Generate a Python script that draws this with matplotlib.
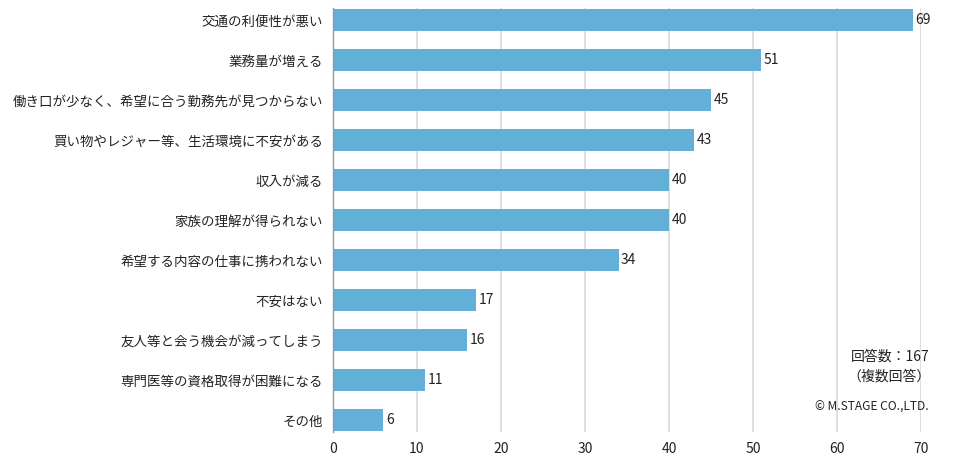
import matplotlib
matplotlib.use("Agg")
import matplotlib.pyplot as plt

plt.rcParams["font.family"] = ["Noto Sans CJK JP", "DejaVu Sans"]

categories = [
    "交通の利便性が悪い",
    "業務量が増える",
    "働き口が少なく、希望に合う勤務先が見つからない",
    "買い物やレジャー等、生活環境に不安がある",
    "収入が減る",
    "家族の理解が得られない",
    "希望する内容の仕事に携われない",
    "不安はない",
    "友人等と会う機会が減ってしまう",
    "専門医等の資格取得が困難になる",
    "その他",
]
counts = [69, 51, 45, 43, 40, 40, 34, 17, 16, 11, 6]
x_ticks = [0, 10, 20, 30, 40, 50, 60, 70]

fig = plt.figure(figsize=(9.76, 4.59), dpi=100)
ax = fig.add_axes([333 / 976, 1 - 432 / 459, 588 / 976, 424 / 459])

pos = list(range(len(categories)))
ax.barh(pos, counts, height=0.53, color="#62AFD8", zorder=2)
for p, v in zip(pos, counts):
    ax.text(v + 0.3, p, str(v), va="center", ha="left", fontsize=10, color="#222222")

ax.set_xlim(0, 70)
ax.set_ylim(10.3, -0.3)
ax.set_yticks(pos)
ax.set_yticklabels(categories, fontsize=9.7, color="#222222")
ax.set_xticks(x_ticks)
ax.set_xticklabels([str(t) for t in x_ticks], fontsize=10, color="#222222")
ax.tick_params(length=0, pad=7, axis="y")
ax.tick_params(length=0, pad=7, axis="x")
ax.grid(axis="x", color="#d9d9d9", linewidth=1.2, zorder=0)
for side in ["top", "right", "bottom"]:
    ax.spines[side].set_visible(False)
ax.spines["left"].set_color("#999999")
ax.spines["left"].set_linewidth(1.0)

fig.text(890 / 976, 1 - 357 / 459, "回答数：167", ha="center", va="center", fontsize=10, color="#222222")
fig.text(889 / 976, 1 - 377 / 459, "（複数回答）", ha="center", va="center", fontsize=10, color="#222222")
fig.text(872 / 976, 1 - 407 / 459, "© M.STAGE CO.,LTD.", ha="center", va="center", fontsize=8.6, color="#222222")

fig.savefig("out.png", dpi=100)
